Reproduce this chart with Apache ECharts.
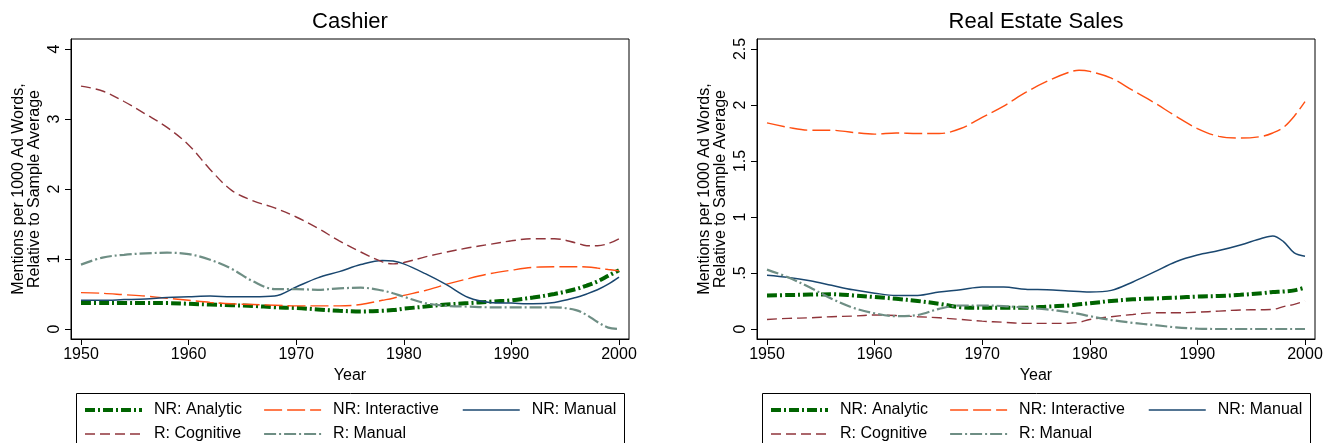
<!DOCTYPE html>
<html>
<head>
<meta charset="utf-8">
<script src="https://cdn.jsdelivr.net/npm/echarts@6/dist/echarts.min.js"></script>
<style>
html,body{margin:0;padding:0;background:#fff;}
#c{width:1326px;height:443px;}
</style>
</head>
<body>
<div id="c"></div>
<script>
// ---------- DATA ----------
var years = [1950,1952,1954,1956,1958,1960,1962,1964,1966,1968,1970,1972,1974,1976,1978,1979,1980,1982,1984,1986,1988,1990,1992,1994,1996,1997,1998,1999,2000];
var xTicks = [1950,1960,1970,1980,1990,2000];
var cashierYTicks = [0,1,2,3,4];
var realEstateYTicks = [0,0.5,1,1.5,2,2.5];
var seriesNames = ['NR: Analytic','NR: Interactive','NR: Manual','R: Cognitive','R: Manual'];
var panelTitles = ['Cashier','Real Estate Sales'];

// Cashier
var cashierAnalytic    = [.37,.37,.37,.37,.37,.36,.35,.34,.33,.31,.30,.28,.26,.25,.26,.27,.29,.32,.35,.37,.39,.41,.45,.50,.57,.62,.68,.76,.84];
var cashierInteractive = [.52,.51,.49,.47,.44,.41,.38,.36,.35,.34,.33,.33,.33,.35,.41,.44,.48,.55,.64,.72,.79,.84,.88,.89,.89,.885,.87,.85,.83];
var cashierNRManual    = [.41,.41,.42,.43,.45,.46,.47,.46,.46,.47,.60,.73,.82,.92,.98,.97,.93,.79,.63,.45,.38,.37,.36,.38,.45,.50,.56,.64,.74];
var cashierCognitive   = [3.47,3.40,3.25,3.07,2.88,2.63,2.28,1.98,1.83,1.73,1.60,1.44,1.26,1.10,0.96,0.93,0.95,1.03,1.10,1.16,1.21,1.26,1.29,1.29,1.23,1.19,1.19,1.22,1.29];
var cashierRManual     = [.92,1.02,1.06,1.08,1.09,1.07,.99,.86,.68,.57,.57,.56,.58,.59,.55,.51,.46,.37,.33,.32,.31,.31,.31,.31,.27,.20,.10,.02,0];

// Real Estate Sales
var reAnalytic    = [.30,.303,.307,.31,.30,.285,.27,.25,.225,.195,.19,.19,.19,.20,.21,.22,.23,.25,.265,.272,.28,.29,.295,.305,.32,.33,.335,.345,.37];
var reInteractive = [1.84,1.80,1.775,1.775,1.755,1.74,1.75,1.745,1.745,1.79,1.89,1.99,2.11,2.21,2.29,2.31,2.30,2.24,2.13,2.02,1.90,1.79,1.72,1.705,1.72,1.75,1.80,1.90,2.03];
var reNRManual    = [.48,.46,.43,.39,.35,.32,.30,.30,.33,.35,.375,.375,.355,.35,.34,.335,.33,.345,.42,.51,.60,.66,.70,.75,.81,.83,.78,.68,.65];
var reCognitive   = [.085,.095,.10,.11,.115,.125,.12,.11,.10,.085,.07,.06,.05,.05,.052,.06,.085,.11,.13,.145,.145,.15,.16,.17,.172,.175,.20,.22,.25];
var reRManual     = [.53,.46,.37,.27,.19,.14,.115,.125,.18,.21,.21,.205,.19,.175,.15,.135,.115,.08,.055,.035,.015,.003,0,0,0,0,0,0,0];

// ---------- STYLE ----------
var FONT = '"Liberation Sans", Arial, Helvetica, sans-serif';
var styles = [
  {color:'#006400', width:4,   type:[10,3,2,3]},
  {color:'#ff4f12', width:1.4, type:[18,5]},
  {color:'#1a476f', width:1.5, type:'solid'},
  {color:'#90353b', width:1.4, type:[10,5]},
  {color:'#6e8e84', width:2.2, type:[12,3,2,3]}
];
var panelData = [
  [cashierAnalytic, cashierInteractive, cashierNRManual, cashierCognitive, cashierRManual],
  [reAnalytic, reInteractive, reNRManual, reCognitive, reRManual]
];

function pairs(vals){ return years.map(function(y,i){ return [y, vals[i]]; }); }
function yFmt(v){ if (Math.abs(v) < 1e-9) return '0'; var s = String(+v.toFixed(2)); return s.replace(/^0\./,'.'); }

var grids = [
  {left:71, top:39, width:558, height:300},
  {left:757, top:39, width:558, height:300}
];
var yRanges = [
  {min:-10/70, max:4+10/70, ticks:cashierYTicks, gap:28},
  {min:-10/112, max:2.5+10/112, ticks:realEstateYTicks, gap:28}
];

var option = {
  animation:false,
  backgroundColor:'#fff',
  textStyle:{fontFamily:FONT},
  grid: grids.map(function(g){ return {left:g.left, top:g.top, width:g.width, height:g.height, show:true, borderColor:'#000', borderWidth:1, containLabel:false}; }),
  xAxis: [0,1].map(function(i){ return {
    type:'value', gridIndex:i, min:1950-10/10.76, max:2000+10/10.76,
    name:'Year', nameLocation:'middle', nameGap:25,
    nameTextStyle:{color:'#000', fontSize:16, fontFamily:FONT},
    axisLine:{show:true, onZero:false, lineStyle:{color:'#000', width:1}},
    axisTick:{show:true, length:6, inside:false, customValues:xTicks, lineStyle:{color:'#000'}},
    axisLabel:{show:true, customValues:xTicks, margin:8, color:'#000', fontSize:16, fontFamily:FONT, formatter:function(v){return String(Math.round(v));}},
    splitLine:{show:false}
  };}),
  yAxis: [0,1].map(function(i){ var r = yRanges[i]; return {
    type:'value', gridIndex:i, min:r.min, max:r.max,
    name:'Mentions per 1000 Ad Words,\nRelative to Sample Average', nameLocation:'middle', nameGap:r.gap,
    nameTextStyle:{color:'#000', fontSize:16, lineHeight:16, fontFamily:FONT},
    axisLine:{show:true, onZero:false, lineStyle:{color:'#000', width:1}},
    axisTick:{show:true, length:6, inside:false, customValues:r.ticks, lineStyle:{color:'#000'}},
    axisLabel:{show:true, customValues:r.ticks, rotate:90, margin:8, color:'#000', fontSize:16, fontFamily:FONT, formatter:yFmt},
    splitLine:{show:false}
  };}),
  series: [],
  legend: [],
  graphic: []
};

[0,1].forEach(function(p){
  seriesNames.forEach(function(name, k){
    option.series.push({
      type:'line', name:name, xAxisIndex:p, yAxisIndex:p,
      data: pairs(panelData[p][k]),
      smooth:0.35, symbol:'none', showSymbol:false,
      lineStyle:{color:styles[k].color, width:styles[k].width, type:styles[k].type, cap:'butt'},
      itemStyle:{color:styles[k].color},
      z: 2 + k,
      emphasis:{disabled:true}
    });
  });
});

var legendCols = [
  {names:['NR: Analytic','R: Cognitive'], dx:7},
  {names:['NR: Interactive','R: Manual'], dx:187},
  {names:['NR: Manual'], dx:386}
];
var legendBoxLeft = [76, 762];
[0,1].forEach(function(p){
  legendCols.forEach(function(col){
    option.legend.push({
      orient:'vertical', left: legendBoxLeft[p] + col.dx, top:402,
      padding:0, itemWidth:57, itemHeight:18, itemGap:8,
      selectedMode:false, data: col.names,
      itemStyle:{opacity:0, borderWidth:0},
      lineStyle:{width:'inherit', type:'inherit', color:'inherit'},
      textStyle:{color:'#000', fontSize:16, fontFamily:FONT, padding:[0,0,0,7]}
    });
  });
  option.graphic.push({
    type:'rect', shape:{x:legendBoxLeft[p]+0.5, y:393.5, width:548, height:70},
    style:{fill:'none', stroke:'#000', lineWidth:1}, silent:true
  });
  option.graphic.push({
    type:'text', x: grids[p].left + grids[p].width/2, y:22,
    style:{text:panelTitles[p], fill:'#000', font:'22px ' + FONT, textAlign:'center', textVerticalAlign:'middle'},
    silent:true
  });
});

var chart = echarts.init(document.getElementById('c'), null, {renderer:'canvas'});
chart.setOption(option);
</script>
</body>
</html>
